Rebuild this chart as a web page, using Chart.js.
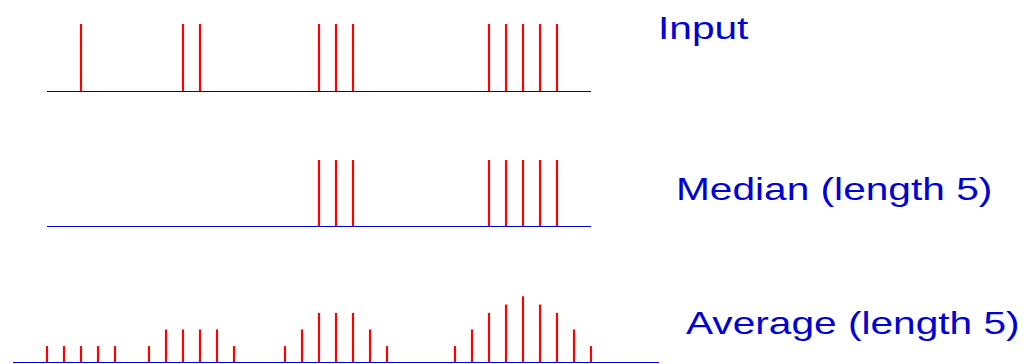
<!DOCTYPE html>
<html>
<head>
<meta charset="utf-8">
<script src="https://cdn.jsdelivr.net/npm/chart.js@4/dist/chart.umd.min.js"></script>
<style>
  html, body { margin: 0; padding: 0; background: #fff; }
  body { position: relative; width: 1024px; height: 364px; overflow: hidden; }
  canvas { position: absolute; }
  .label {
    position: absolute;
    font-family: "Liberation Sans", Arial, sans-serif;
    font-size: 32px;
    line-height: 32px;
    color: #0000d2;
    white-space: nowrap;
    transform: scaleX(1.27);
    transform-origin: left top;
  }
</style>
</head>
<body>
<canvas id="inputChart"></canvas>
<canvas id="medianChart"></canvas>
<canvas id="averageChart"></canvas>
<div class="label" id="inputLabel"></div>
<div class="label" id="medianLabel"></div>
<div class="label" id="averageLabel"></div>
<script>
// sample index of each non-zero sample, and its value
var inputX = [2, 8, 9, 16, 17, 18, 26, 27, 28, 29, 30];
var inputY = [1, 1, 1, 1, 1, 1, 1, 1, 1, 1, 1];

var medianX = [16, 17, 18, 26, 27, 28, 29, 30];
var medianY = [1, 1, 1, 1, 1, 1, 1, 1];

var averageX = [0, 1, 2, 3, 4,
                6, 7, 8, 9, 10, 11,
                14, 15, 16, 17, 18, 19, 20,
                24, 25, 26, 27, 28, 29, 30, 31, 32];
var averageY = [0.2, 0.2, 0.2, 0.2, 0.2,
                0.2, 0.4, 0.4, 0.4, 0.4, 0.2,
                0.2, 0.4, 0.6, 0.6, 0.6, 0.4, 0.2,
                0.2, 0.4, 0.6, 0.7, 0.8, 0.7, 0.6, 0.4, 0.2];

var signalRange = [0, 32];
var averageRange = [-2, 36];
var rowLabels = ['Input', 'Median (length 5)', 'Average (length 5)'];

var stemColor = '#ff0000';
var axisColor = '#0000cc';
var pad = 4;

function toPoints(xs, ys) {
    return xs.map(function(x, i) { return { x: x, y: ys[i] }; });
}

// one stem plot: area is the plot box in page pixels
function stemChart(id, xs, ys, range, area) {
    var canvas = document.getElementById(id);
    canvas.width = area.w + 2 * pad;
    canvas.height = area.h + 2 * pad;
    canvas.style.left = (area.x - pad) + 'px';
    canvas.style.top = (area.y - pad) + 'px';

    return new Chart(canvas.getContext('2d'), {
        type: 'bar',
        data: {
            datasets: [{
                type: 'line',
                data: [{ x: range[0], y: 0 }, { x: range[1], y: 0 }],
                borderColor: axisColor,
                borderWidth: 2,
                pointRadius: 0,
                order: 0
            }, {
                type: 'bar',
                data: toPoints(xs, ys),
                backgroundColor: stemColor,
                barThickness: 1.5,
                order: 1
            }]
        },
        options: {
            responsive: false,
            animation: false,
            devicePixelRatio: 1,
            events: [],
            layout: { padding: pad },
            plugins: { legend: { display: false }, tooltip: { enabled: false } },
            scales: {
                x: { type: 'linear', min: range[0], max: range[1], offset: false, display: false },
                y: { min: 0, max: 1, display: false }
            }
        }
    });
}

stemChart('inputChart', inputX, inputY, signalRange, { x: 47, y: 24, w: 544, h: 68 });
stemChart('medianChart', medianX, medianY, signalRange, { x: 47, y: 160, w: 544, h: 67.5 });
stemChart('averageChart', averageX, averageY, averageRange, { x: 13, y: 279.5, w: 646, h: 83 });

var labelPos = [[658, 12], [676, 173], [686, 307]];
['inputLabel', 'medianLabel', 'averageLabel'].forEach(function(id, i) {
    var el = document.getElementById(id);
    el.textContent = rowLabels[i];
    el.style.left = labelPos[i][0] + 'px';
    el.style.top = labelPos[i][1] + 'px';
});
</script>
</body>
</html>
